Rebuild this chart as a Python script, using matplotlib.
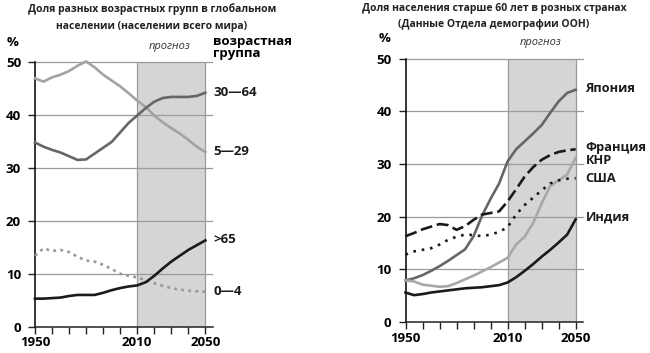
import matplotlib
matplotlib.use("Agg")
import matplotlib.pyplot as plt
import numpy as np

plt.rcParams['font.family'] = ['Open Sans', 'DejaVu Sans']

years = list(range(1950, 2051, 5))

# left panel: share of age groups in world population, %
age_5_29 = [46.9, 46.3, 47.1, 47.6, 48.3, 49.3, 50.1, 49.0, 47.6, 46.5, 45.4,
            44.1, 42.7, 41.5, 39.9, 38.6, 37.5, 36.5, 35.3, 34.0, 33.0]
age_30_64 = [34.8, 34.0, 33.4, 32.9, 32.2, 31.5, 31.6, 32.7, 33.8, 34.9, 36.7,
             38.5, 39.9, 41.3, 42.5, 43.2, 43.4, 43.4, 43.4, 43.6, 44.2]
age_0_4 = [13.4, 14.8, 14.3, 14.5, 14.1, 13.2, 12.5, 12.3, 11.7, 10.9, 10.0,
           9.6, 9.3, 8.8, 8.2, 7.7, 7.3, 7.0, 6.8, 6.7, 6.6]
age_65 = [5.3, 5.3, 5.4, 5.5, 5.8, 6.0, 6.0, 6.0, 6.4, 6.9, 7.3,
          7.6, 7.8, 8.4, 9.6, 11.0, 12.3, 13.4, 14.5, 15.4, 16.3]

# right panel: share of population over 60, %
japan = [7.9, 8.3, 8.9, 9.7, 10.6, 11.6, 12.7, 13.8, 16.3, 20.2, 23.4,
         26.3, 30.5, 32.8, 34.3, 35.8, 37.4, 39.7, 41.9, 43.5, 44.1]
france = [16.3, 16.9, 17.6, 18.1, 18.6, 18.4, 17.5, 18.2, 19.4, 20.4, 20.7,
          21.0, 22.9, 25.2, 27.6, 29.4, 30.8, 31.7, 32.3, 32.6, 32.8]
china = [7.9, 7.7, 7.1, 6.9, 6.7, 6.8, 7.4, 8.1, 8.8, 9.6, 10.4,
         11.3, 12.2, 14.7, 16.2, 18.8, 22.5, 25.8, 26.9, 28.0, 31.2]
usa = [12.8, 13.4, 13.7, 14.0, 14.7, 15.6, 16.2, 16.6, 16.5, 16.3, 16.6,
       17.1, 18.0, 20.4, 22.2, 23.6, 25.0, 26.3, 26.9, 27.2, 27.3]
india = [5.6, 5.1, 5.3, 5.6, 5.8, 6.0, 6.2, 6.4, 6.5, 6.6, 6.8,
         7.0, 7.5, 8.5, 9.7, 11.0, 12.4, 13.7, 15.1, 16.6, 19.5]

forecast = (2010, 2050)
yticks = [0, 10, 20, 30, 40, 50]
xticks_major = [1950, 2010, 2050]

W, H = 650, 353
fig = plt.figure(figsize=(W / 100, H / 100), dpi=100)


def setup_axes(ax, xmax):
    ax.set_xlim(1950, xmax)
    ax.set_ylim(0, 50)
    ax.axvspan(forecast[0], forecast[1], ymin=0, ymax=1, color='#d5d5d7', lw=0, zorder=0)
    for y in yticks[1:]:
        ax.axhline(y, color='#9a9a9a', lw=0.9, zorder=1, clip_on=False)
    for x in forecast:
        ax.axvline(x, color='#9a9a9a', lw=0.9, zorder=1)
    for s in ['top', 'right']:
        ax.spines[s].set_visible(False)
    ax.spines['left'].set_linewidth(1.1)
    ax.spines['bottom'].set_linewidth(1.1)
    ax.spines['bottom'].set_color('#222222')
    ax.set_yticks(yticks)
    ax.set_yticklabels([str(t) for t in yticks], fontweight='bold', fontsize=9.5)
    ax.set_xticks(list(range(1950, 2051, 10)))
    ax.set_xticklabels([str(t) if t in xticks_major else '' for t in range(1950, 2051, 10)],
                       fontweight='bold', fontsize=9.5)
    ax.tick_params(axis='both', direction='out', length=5, width=1, color='#222222', pad=2)
    ax.tick_params(axis='y', pad=5)
    ax.set_facecolor('none')


# --- LEFT PANEL ---
ax1 = fig.add_axes([35 / W, 26.3 / H, 177.5 / W, 264.7 / H])
setup_axes(ax1, 2054.2)
ax1.plot(years, age_5_29, color='#a3a3a3', lw=1.9, zorder=3, clip_on=False)
ax1.plot(years, age_30_64, color='#666666', lw=1.9, zorder=3, clip_on=False)
ax1.plot(years, age_0_4, color='#9a9a9a', lw=1.9, ls=(0, (1.1, 1.6)), zorder=3, clip_on=False)
ax1.plot(years, age_65, color='#1a1a1a', lw=1.9, zorder=4, clip_on=False)

left_labels = ['30—64', '5—29', '>65', '0—4']
left_label_y = [44.3, 33.0, 16.4, 6.6]
for lab, y in zip(left_labels, left_label_y):
    ax1.text(2054.6, y, lab, fontsize=9.5, fontweight='bold', ha='left', va='center',
             color='#1a1a1a', clip_on=False)

# --- RIGHT PANEL ---
ax2 = fig.add_axes([405.5 / W, 31 / H, 177.5 / W, 263.3 / H])
setup_axes(ax2, 2054.3)
ax2.plot(years, japan, color='#666666', lw=1.9, zorder=3, clip_on=False)
ax2.plot(years, china, color='#a8a8a8', lw=1.9, zorder=3, clip_on=False)
ax2.plot(years, france, color='#1a1a1a', lw=1.9, ls=(0, (4.5, 1.8)), zorder=4, clip_on=False)
ax2.plot(years, usa, color='#1a1a1a', lw=1.9, ls=(0, (1.0, 2.2)), zorder=4, clip_on=False)
ax2.plot(years, india, color='#1a1a1a', lw=1.9, zorder=4, clip_on=False)

right_labels = ['Япония', 'Франция', 'КНР', 'США', 'Индия']
right_label_y = [44.4, 33.2, 30.6, 27.2, 19.9]
for lab, y in zip(right_labels, right_label_y):
    ax2.text(2055.8, y, lab, fontsize=9.2, fontweight='bold', ha='left', va='center',
             color='#1a1a1a', clip_on=False)

# titles and header text
fig.text(152 / W, 1 - 9 / H, 'Доля разных возрастных групп в глобальном',
         ha='center', va='center', fontsize=7.5, fontweight='bold', color='#222222')
fig.text(152 / W, 1 - 26 / H, 'населении (населении всего мира)',
         ha='center', va='center', fontsize=7.5, fontweight='bold', color='#222222')
fig.text(494 / W, 1 - 8 / H, 'Доля населения старше 60 лет в розных странах',
         ha='center', va='center', fontsize=7.5, fontweight='bold', color='#222222')
fig.text(494 / W, 1 - 25 / H, '(Данные Отдела демографии ООН)',
         ha='center', va='center', fontsize=7.5, fontweight='bold', color='#222222')

fig.text(13 / W, 1 - 43 / H, '%', ha='center', va='center', fontsize=9.5, fontweight='bold')
fig.text(385 / W, 1 - 39 / H, '%', ha='center', va='center', fontsize=9.5, fontweight='bold')
fig.text(170 / W, 1 - 47 / H, 'прогноз', ha='center', va='center', fontsize=8, style='italic',
         color='#333333')
fig.text(541 / W, 1 - 42 / H, 'прогноз', ha='center', va='center', fontsize=8, style='italic',
         color='#333333')
fig.text(213 / W, 1 - 47.5 / H, 'возрастная\nгруппа', ha='left', va='center', fontsize=9.5,
         fontweight='bold', linespacing=0.9)

fig.savefig('out.png', dpi=100)
